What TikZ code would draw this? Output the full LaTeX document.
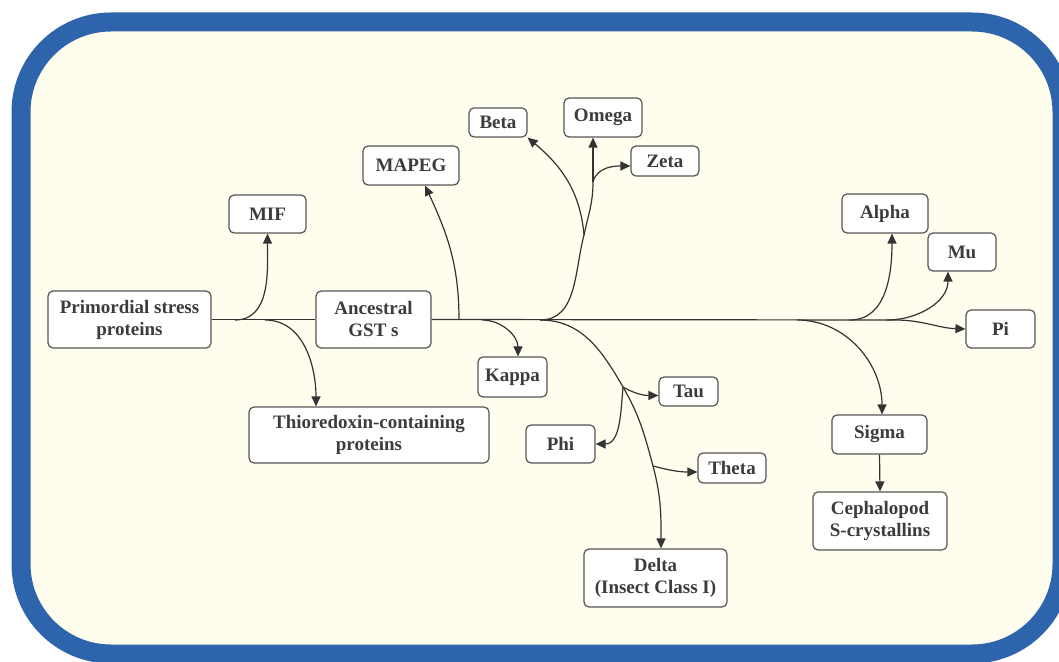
\documentclass[tikz,border=0pt]{standalone}
\usepackage{fontspec}
\setmainfont{Liberation Serif}
\usetikzlibrary{arrows.meta}
\definecolor{frameblue}{RGB}{46,100,172}
\definecolor{paper}{RGB}{255,253,238}
\definecolor{boxline}{RGB}{85,85,85}
\definecolor{inkgray}{RGB}{60,60,60}

\begin{document}
\begin{tikzpicture}[x=0.5pt,y=0.5pt,
		box/.style={draw=boxline,fill=white,rounded corners=2.5pt,line width=0.6pt,align=center,inner sep=1pt,
			text=inkgray,font=\fontsize{9.5}{11}\selectfont\bfseries},
		link/.style={draw=black!80,line width=0.6pt},
		arr/.style={link,-{Triangle[length=5pt,width=4.5pt]}}
		]
		\clip (0,0) rectangle (1059,-662);
		\fill[white] (0,0) rectangle (1059,-662);
		\draw[line width=9.5pt,draw=frameblue,fill=paper,rounded corners=45pt] (21,-22) rectangle (1062,-654);
		
		\node[box,minimum width=81.5pt,minimum height=28.5pt] (prim) at (129.5,-319.5) {Primordial stress\\proteins};
		\node[box,minimum width=57.5pt,minimum height=28.5pt] (anc) at (373.5,-319.5) {Ancestral\\GST s};
		\node[box,minimum width=38.5pt,minimum height=19pt] (mif) at (267.5,-214) {MIF};
		\node[box,minimum width=120pt,minimum height=28pt] (thio) at (369,-435) {Thioredoxin-containing\\proteins};
		\node[box,minimum width=48pt,minimum height=19.5pt] (mapeg) at (411,-165.5) {MAPEG};
		\node[box,minimum width=29pt,minimum height=14.5pt] (beta) at (498,-122.5) {Beta};
		\node[box,minimum width=39pt,minimum height=19.5pt] (omega) at (603,-117.5) {Omega};
		\node[box,minimum width=34pt,minimum height=15pt] (zeta) at (665,-161) {Zeta};
		\node[box,minimum width=34.5pt,minimum height=20pt] (kappa) at (512.5,-377) {Kappa};
		\node[box,minimum width=29.5pt,minimum height=14.5pt] (tau) at (688.5,-391.5) {Tau};
		\node[box,minimum width=34.5pt,minimum height=19pt] (phi) at (560.5,-444) {Phi};
		\node[box,minimum width=34pt,minimum height=15pt] (theta) at (732,-468) {Theta};
		\node[box,minimum width=71.5pt,minimum height=29pt] (delta) at (655.5,-578) {Delta\\(Insect Class I)};
		\node[box,minimum width=43pt,minimum height=19.5pt] (alpha) at (885,-213.5) {Alpha};
		\node[box,minimum width=34pt,minimum height=19pt] (mu) at (962,-252) {Mu};
		\node[box,minimum width=34.5pt,minimum height=19pt] (pi) at (1000.5,-329) {Pi};
		\node[box,minimum width=47.5pt,minimum height=19.5pt] (sigma) at (879.5,-434.5) {Sigma};
		\node[box,minimum width=67pt,minimum height=29pt] (ceph) at (880,-521) {Cephalopod\\S-crystallins};
		
		% branch points on the tree
		\coordinate (jmif) at (235,-320);
		\coordinate (jthio) at (265,-320);
		\coordinate (jmapeg) at (459,-320);
		\coordinate (jkappa) at (482,-320);
		\coordinate (jup) at (540,-320);
		\coordinate (jbo) at (584,-235);
		\coordinate (jzeta) at (593,-182);
		\coordinate (jtau) at (623,-387);
		\coordinate (jtheta) at (653,-466);
		\coordinate (jsigma) at (797,-320);
		\coordinate (jalpha) at (850,-320);
		\coordinate (jmu) at (887,-320);
		\coordinate (jpi) at (895,-320);
		
		\draw[link] (prim.east) -- (anc.west);
		\draw[link] (anc.east) -- (jpi);
		\draw[arr] (jpi) to[out=0,in=178] (pi.west);
		
		\draw[arr] (jmif) to[out=0,in=-90] (mif.south);
		\draw[arr] (jthio) to[out=0,in=90] ([xshift=-26.5pt]thio.north);
		\draw[arr] (jmapeg) to[out=90,in=-65] ([xshift=7pt]mapeg.south);
		\draw[arr] (jkappa) to[out=0,in=90] ([xshift=2.75pt]kappa.north);
		
		\draw[link] (jup) to[out=0,in=-105] (jbo);
		\draw[link] (jbo) to[out=78,in=-90] (jzeta);
		\draw[arr] (jzeta) -- ([xshift=-5pt]omega.south);
		\draw[arr] (jbo) to[out=95,in=-40] (beta.south east);
		\draw[arr] (jzeta) to[out=75,in=180] ([yshift=-2.5pt]zeta.west);
		
		\draw[link] (jup) to[out=0,in=120] (jtau) to[out=-60,in=105] (jtheta);
		\draw[arr] (jtheta) to[out=-75,in=90] ([xshift=2.75pt]delta.north);
		\draw[arr] (jtau) to[out=-30,in=180] ([yshift=-2pt]tau.west);
		\draw[arr] (jtau) to[out=-95,in=0] (phi.east);
		\draw[arr] (jtheta) to[out=-15,in=180] ([yshift=-2pt]theta.west);
		
		\draw[arr] (jsigma) to[out=0,in=90] ([xshift=1.25pt]sigma.north);
		\draw[arr] (sigma.south) -- (ceph.north);
		\draw[arr] (jalpha) to[out=0,in=-90] ([xshift=3.5pt]alpha.south);
		\draw[arr] (jmu) to[out=0,in=-90] ([xshift=-7pt]mu.south);
	\end{tikzpicture}
\end{document}
